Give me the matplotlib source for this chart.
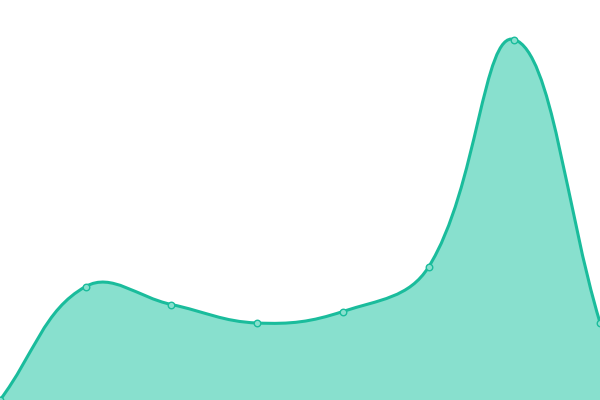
import matplotlib
matplotlib.use("Agg")
import matplotlib.pyplot as plt
import numpy as np
from matplotlib.path import Path
from matplotlib.patches import PathPatch

categories = ["A", "B", "C", "D", "E", "F", "G", "H"]
values = [0, 113.5, 95.5, 77, 88.5, 133, 360.5, 77.5]

line_color = "#1abc9c"
fill_color = "#88e0ce"
W, H = 600, 400

fig = plt.figure(figsize=(6, 4), dpi=100)
ax = fig.add_axes([0, 0, 1, 1])
n = len(values)
ax.set_xlim(0, n - 1)
ax.set_ylim(0, 400)
ax.axis("off")

# positions in pixel space via axis transform
xs = np.arange(n, dtype=float)
pts = ax.transData.transform(np.column_stack([xs, values]))
inv = ax.transData.inverted()

t = 0.4
cp_prev = [None] * n
cp_next = [None] * n
for i in range(n):
    cur = pts[i]
    prev = pts[i - 1] if i > 0 else cur
    nxt = pts[i + 1] if i < n - 1 else cur
    d01 = np.hypot(*(cur - prev))
    d12 = np.hypot(*(nxt - cur))
    tot = d01 + d12
    s01 = d01 / tot if tot else 0
    s12 = d12 / tot if tot else 0
    fa = t * s01
    fb = t * s12
    cp_prev[i] = cur - fa * (nxt - prev)
    cp_next[i] = cur + fb * (nxt - prev)

verts = [pts[0]]
codes = [Path.MOVETO]
for i in range(n - 1):
    verts += [cp_next[i], cp_prev[i + 1], pts[i + 1]]
    codes += [Path.CURVE4] * 3
curve_verts = [inv.transform(v) for v in verts]

line_path = Path(curve_verts, codes)
base0 = inv.transform(ax.transData.transform((n - 1, 0)))
base1 = inv.transform(ax.transData.transform((0, 0)))
fill_verts = curve_verts + [base0, base1, curve_verts[0]]
fill_codes = codes + [Path.LINETO, Path.LINETO, Path.CLOSEPOLY]
fill_path = Path(fill_verts, fill_codes)

ax.add_patch(PathPatch(fill_path, facecolor=fill_color, edgecolor="none", zorder=1))
ax.add_patch(PathPatch(line_path, facecolor="none", edgecolor=line_color, lw=2.2, zorder=2, capstyle="round"))
ax.scatter(xs, values, s=22, facecolor=fill_color, edgecolor=line_color, linewidth=1, zorder=3, clip_on=False)

fig.savefig("out.png", dpi=100)
